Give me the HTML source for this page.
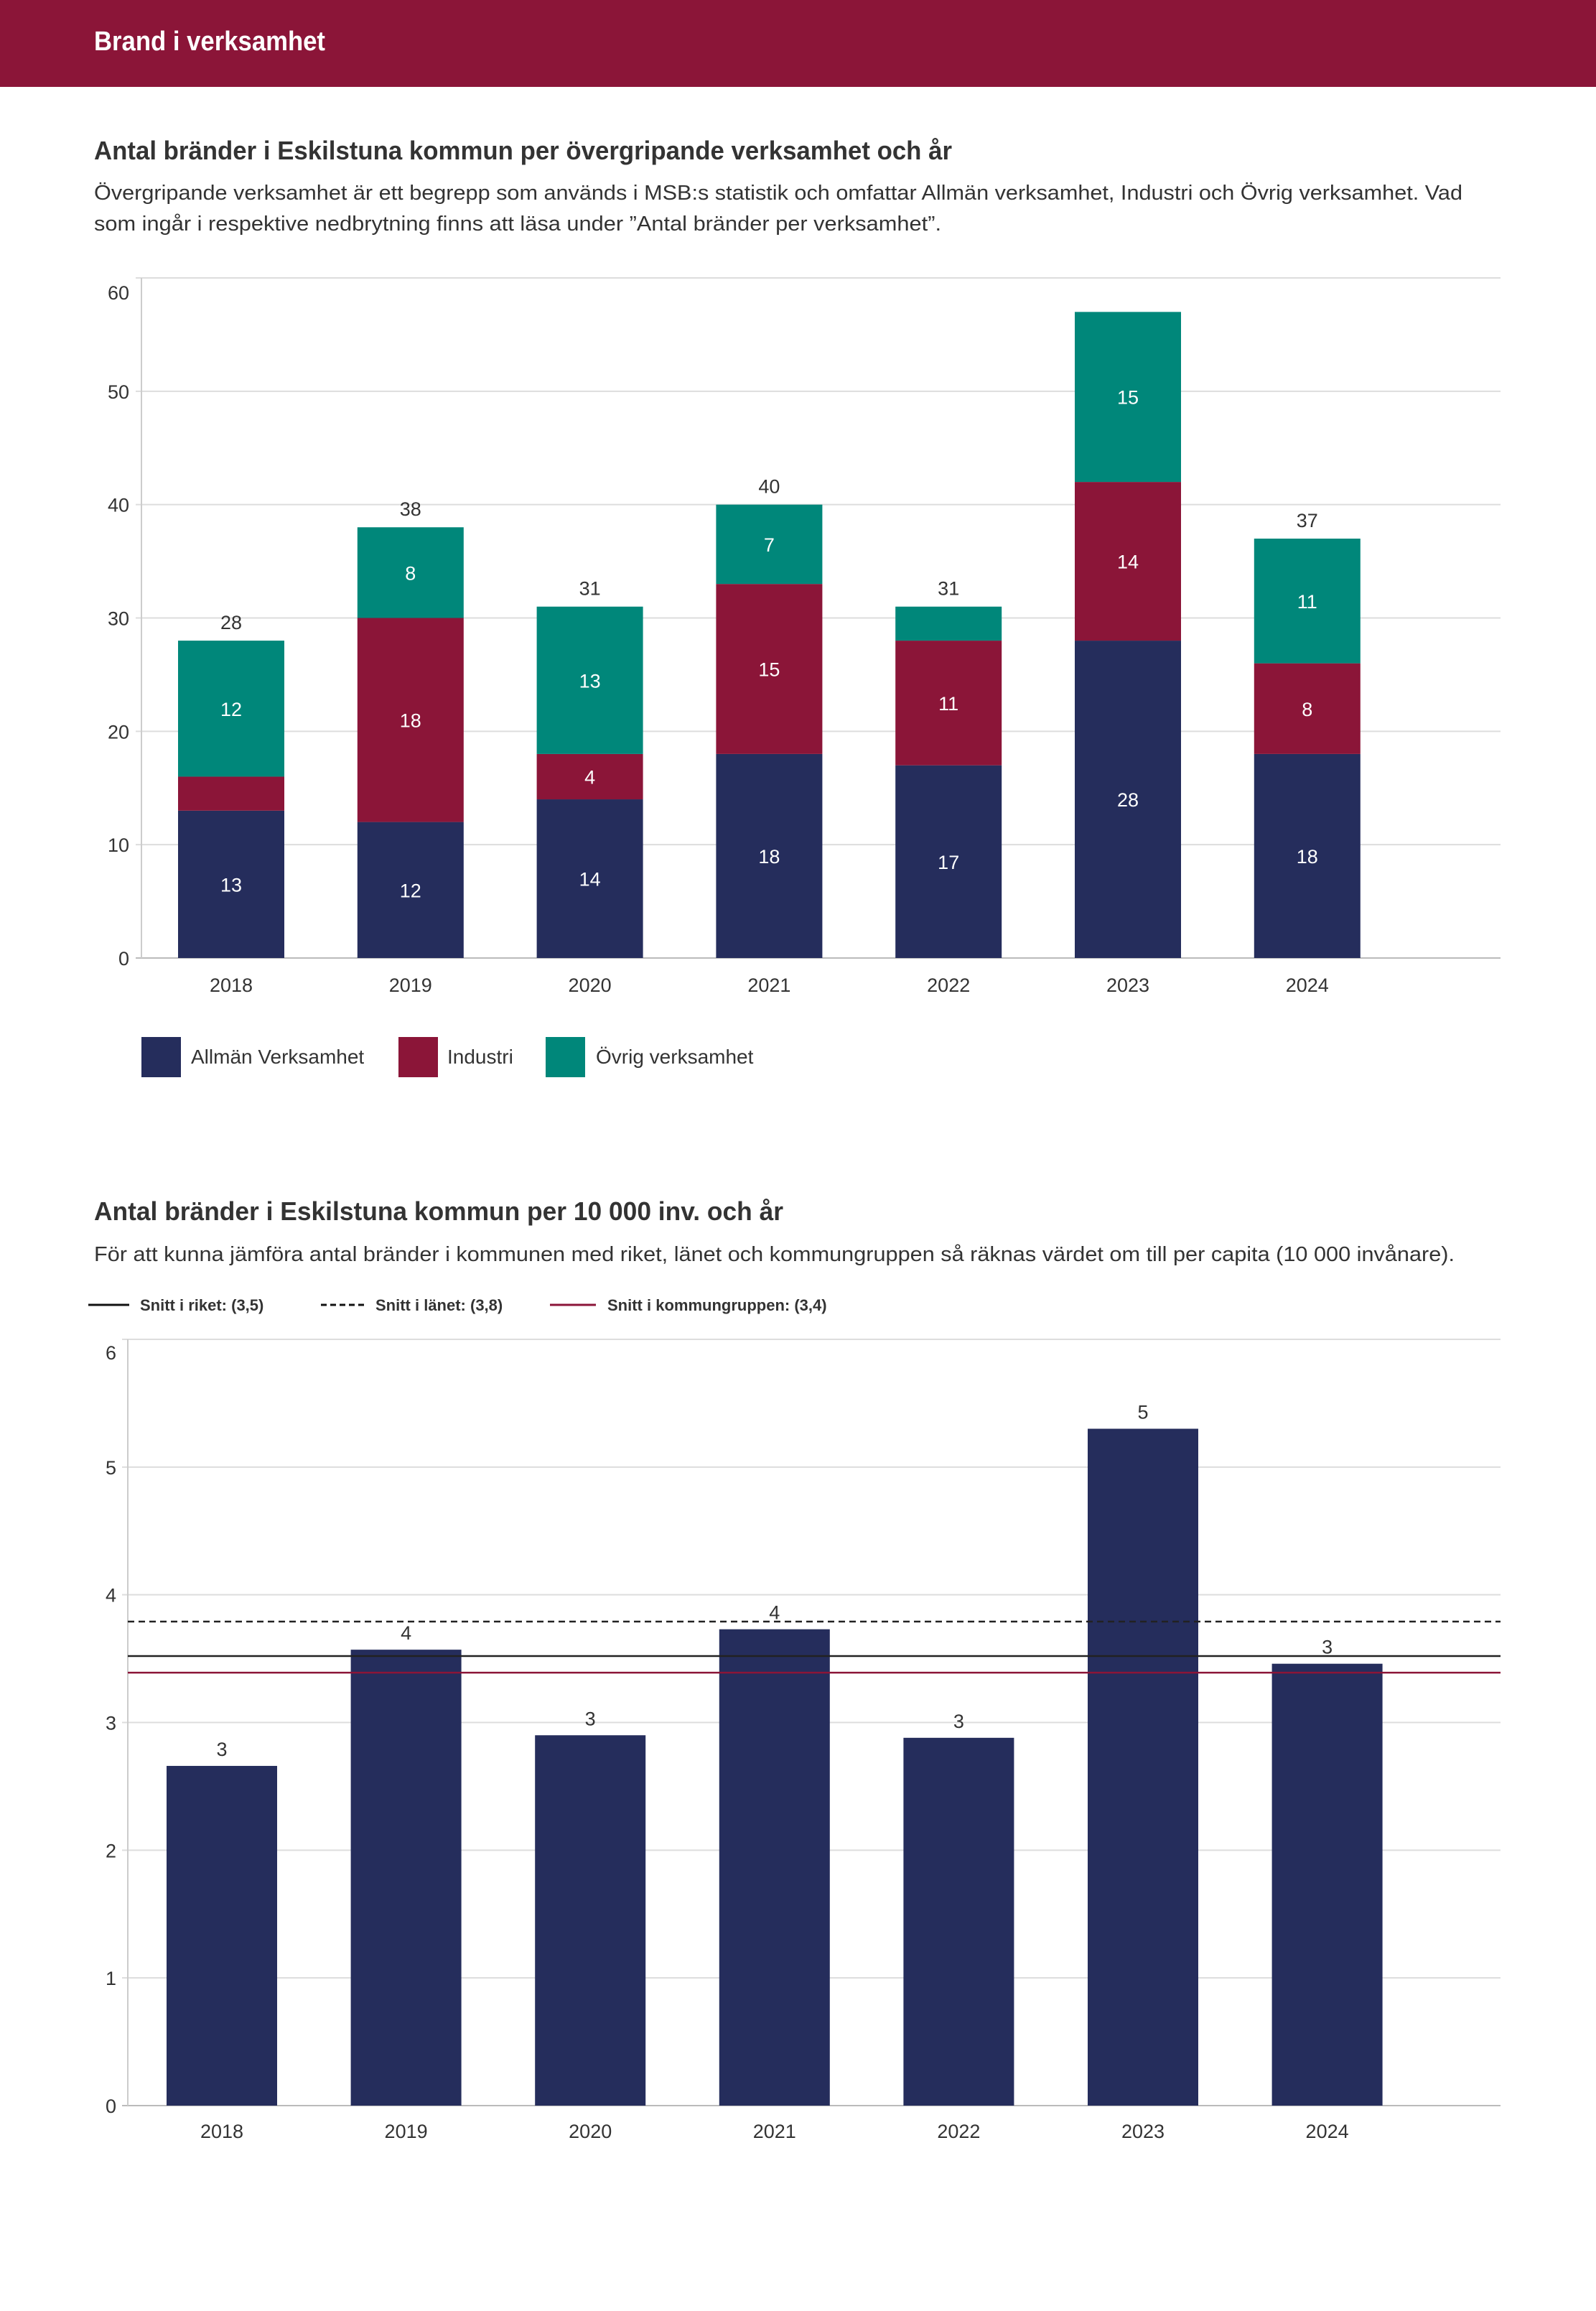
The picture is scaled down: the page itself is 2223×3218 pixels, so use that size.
<!DOCTYPE html>
<html><head><meta charset="utf-8"><style>
html,body{margin:0;padding:0;background:#fff;}
svg text{font-family:"Liberation Sans",sans-serif;}
</style></head><body>
<svg id="page" width="2223" height="3213" viewBox="0 0 2223 3213" xmlns="http://www.w3.org/2000/svg">
<rect x="0" y="0" width="2223" height="121" fill="#8b1538"/>
<text x="131" y="70" font-size="38" font-weight="bold" fill="#fff" textLength="322" lengthAdjust="spacingAndGlyphs">Brand i verksamhet</text>
<text x="131" y="222" font-size="36" font-weight="bold" fill="#333" textLength="1195" lengthAdjust="spacingAndGlyphs">Antal bränder i Eskilstuna kommun per övergripande verksamhet och år</text>
<text x="131" y="278" font-size="29" fill="#333" textLength="1906" lengthAdjust="spacingAndGlyphs">Övergripande verksamhet är ett begrepp som används i MSB:s statistik och omfattar Allmän verksamhet, Industri och Övrig verksamhet. Vad</text>
<text x="131" y="321" font-size="29" fill="#333" textLength="1180" lengthAdjust="spacingAndGlyphs">som ingår i respektive nedbrytning finns att läsa under ”Antal bränder per verksamhet”.</text>
<g id="c1"></g>
<g>
<rect x="197" y="1444" width="55" height="56" fill="#252d5c"/>
<text x="266" y="1481" font-size="28" fill="#333">Allmän Verksamhet</text>
<rect x="555" y="1444" width="55" height="56" fill="#8b1538"/>
<text x="623" y="1481" font-size="28" fill="#333">Industri</text>
<rect x="760" y="1444" width="55" height="56" fill="#00877a"/>
<text x="830" y="1481" font-size="28" fill="#333">Övrig verksamhet</text>
</g>
<text x="131" y="1699" font-size="36" font-weight="bold" fill="#333" textLength="960" lengthAdjust="spacingAndGlyphs">Antal bränder i Eskilstuna kommun per 10 000 inv. och år</text>
<text x="131" y="1756" font-size="29" fill="#333" textLength="1895" lengthAdjust="spacingAndGlyphs">För att kunna jämföra antal bränder i kommunen med riket, länet och kommungruppen så räknas värdet om till per capita (10 000 invånare).</text>
<g>
<line x1="123" y1="1817" x2="180" y2="1817" stroke="#111" stroke-width="3"/>
<text x="195" y="1825" font-size="22" font-weight="bold" fill="#333">Snitt i riket: (3,5)</text>
<line x1="447" y1="1817" x2="508" y2="1817" stroke="#111" stroke-width="3" stroke-dasharray="8,5"/>
<text x="523" y="1825" font-size="22" font-weight="bold" fill="#333">Snitt i länet: (3,8)</text>
<line x1="766" y1="1817" x2="830" y2="1817" stroke="#8b1538" stroke-width="3"/>
<text x="846" y="1825" font-size="22" font-weight="bold" fill="#333">Snitt i kommungruppen: (3,4)</text>
</g>
<g id="c2"></g>
</svg>
<script>
const years = ["2018","2019","2020","2021","2022","2023","2024"];
const allman = [13,12,14,18,17,28,18];
const industri = [3,18,4,15,11,14,8];
const ovrig = [12,8,13,7,3,15,11];
const showTotal = [true,true,true,true,true,false,true];
const c1Ticks = [0,10,20,30,40,50,60];
const perCapita = [2.66,3.57,2.90,3.73,2.88,5.30,3.46];
const perCapitaLabels = ["3","4","3","4","3","5","3"];
const c2Ticks = [0,1,2,3,4,5,6];
const avgRiket = 3.52;
const avgLanet = 3.79;
const avgKommungrupp = 3.39;

const NS = "http://www.w3.org/2000/svg";
function mk(parent, tag, attrs){const e=document.createElementNS(NS,tag);for(const k in attrs)e.setAttribute(k,attrs[k]);parent.appendChild(e);return e;}

// chart 1
(function(){
  const g=document.getElementById('c1');
  const x0=197,x1=2090,yTop=387,yBot=1334,maxV=60;
  const y=v=>yBot-(v/maxV)*(yBot-yTop);
  const cx=i=>322+i*249.8;
  const bw=148;
  c1Ticks.forEach(t=>{
    const l=mk(g,'line',{x1:x0-8,x2:x1,y1:y(t),y2:y(t),stroke:t===0?'#bbb':'#ddd','stroke-width':2});
    
    
    const tx=mk(g,'text',{x:180,y:(t===60?y(t)+30:y(t)+10),'font-size':27,fill:'#333','text-anchor':'end'});
    tx.textContent=t;
    
    
  });
  const ax=mk(g,'line',{x1:x0,x2:x0,y1:yTop,y2:yBot,stroke:'#ccc','stroke-width':2});
  
  
  const series=[[allman,'#252d5c','allman'],[industri,'#8b1538','industri'],[ovrig,'#00877a','ovrig']];
  years.forEach((yr,i)=>{
    let base=0;
    series.forEach(([arr,col,nm])=>{
      const v=arr[i];
      const r=mk(g,'rect',{x:cx(i)-bw/2,y:y(base+v),width:bw,height:y(base)-y(base+v),fill:col});
      
      
      if(v>=4){
        const t=mk(g,'text',{x:cx(i),y:(y(base)+y(base+v))/2+10,'font-size':27,fill:'#fff','text-anchor':'middle'});
        t.textContent=v;
        
        
      }
      base+=v;
    });
    if(showTotal[i]){
      const t=mk(g,'text',{x:cx(i),y:y(base)-16,'font-size':27,fill:'#333','text-anchor':'middle'});
      t.textContent=base;
      
      
    }
    const xl=mk(g,'text',{x:cx(i),y:1381,'font-size':27,fill:'#333','text-anchor':'middle'});
    xl.textContent=yr;
    
    
  });
})();

// chart 2
(function(){
  const g=document.getElementById('c2');
  const x0=178,x1=2090,yTop=1865,yBot=2932,maxV=6;
  const y=v=>yBot-(v/maxV)*(yBot-yTop);
  const cx=i=>309+i*256.6;
  const bw=154;
  c2Ticks.forEach(t=>{
    const l=mk(g,'line',{x1:x0-8,x2:x1,y1:y(t),y2:y(t),stroke:t===0?'#bbb':'#ddd','stroke-width':2});
    
    
    const tx=mk(g,'text',{x:162,y:(t===6?y(t)+28:y(t)+10),'font-size':27,fill:'#333','text-anchor':'end'});
    tx.textContent=t;
    
    
  });
  const ax=mk(g,'line',{x1:x0,x2:x0,y1:yTop,y2:yBot,stroke:'#ccc','stroke-width':2});
  
  
  years.forEach((yr,i)=>{
    const v=perCapita[i];
    const r=mk(g,'rect',{x:cx(i)-bw/2,y:y(v),width:bw,height:yBot-y(v),fill:'#252d5c'});
    
    
    const t=mk(g,'text',{x:cx(i),y:y(v)-14,'font-size':27,fill:'#333','text-anchor':'middle'});
    t.textContent=perCapitaLabels[i];
    
    
    const xl=mk(g,'text',{x:cx(i),y:2977,'font-size':27,fill:'#333','text-anchor':'middle'});
    xl.textContent=yr;
    
    
  });
  const l1=mk(g,'line',{x1:x0,x2:x1,y1:y(avgLanet),y2:y(avgLanet),stroke:'#222','stroke-width':2.5,'stroke-dasharray':'9,6'});
  
  
  const l2=mk(g,'line',{x1:x0,x2:x1,y1:y(avgRiket),y2:y(avgRiket),stroke:'#222','stroke-width':2.5});
  
  
  const l3=mk(g,'line',{x1:x0,x2:x1,y1:y(avgKommungrupp),y2:y(avgKommungrupp),stroke:'#8b1538','stroke-width':2.5});
  
  
})();
</script>
</body></html>
